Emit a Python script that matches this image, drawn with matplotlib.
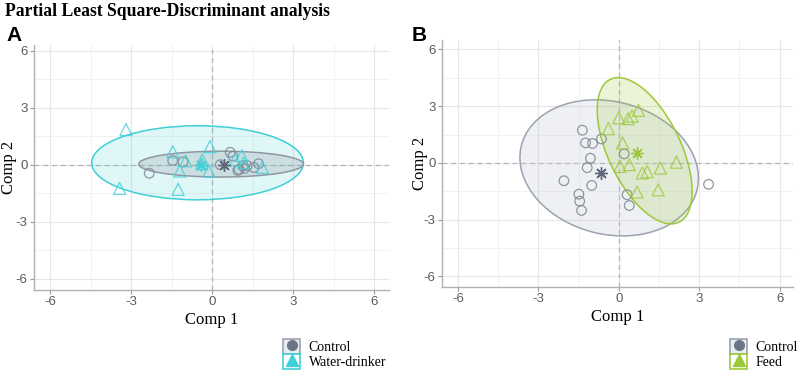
import matplotlib
matplotlib.use("Agg")
import matplotlib.pyplot as plt
from matplotlib.patches import Ellipse, Rectangle
from matplotlib.lines import Line2D
from matplotlib.legend_handler import HandlerTuple

# panel A: control vs water-drinker
a_ctrl_x = [-2.33, -1.46, -1.08, 0.30, 0.67, 0.77, 1.00, 1.15, 1.30, 1.20, 1.55, 1.72, 0.95]
a_ctrl_y = [-0.45, 0.22, 0.15, 0.00, 0.65, 0.45, -0.25, -0.05, -0.05, -0.20, -0.15, 0.05, -0.30]
a_trt_x = [-3.19, -3.43, -1.46, -1.20, -1.26, -0.98, -0.36, -0.08, -0.12, 1.10, 0.85, 1.16, 1.86, -0.38]
a_trt_y = [1.85, -1.25, 0.68, -0.33, -1.30, 0.20, 0.26, 0.95, -0.34, 0.47, 0.26, 0.09, -0.14, 0.05]
a_centroids = {"Control": (0.44, 0.0), "Water-drinker": (-0.42, 0.0)}
# ellipse: centre x, centre y, semi-major, semi-minor, angle (deg)
a_ell_ctrl = (0.33, 0.03, 3.05, 0.68, 0.0)
a_ell_trt = (-0.54, 0.10, 3.92, 1.95, 0.0)

# panel B: control vs feed
b_ctrl_x = [-1.36, -1.24, -0.98, -0.65, -1.06, -1.18, -2.05, -1.01, -1.49, -1.46, -1.39, 0.20, 0.31, 0.39, 3.35]
b_ctrl_y = [1.73, 1.06, 1.03, 1.27, 0.25, -0.25, -0.94, -1.19, -1.65, -2.02, -2.51, 0.48, -1.68, -2.25, -1.13]
b_trt_x = [0.73, 0.50, 0.35, 0.00, -0.39, 0.14, 0.04, 0.39, 0.88, 1.06, 1.55, 2.15, 0.68, 1.47]
b_trt_y = [2.78, 2.48, 2.34, 2.39, 1.81, 1.06, -0.18, -0.09, -0.53, -0.46, -0.27, 0.04, -1.54, -1.42]
b_centroids = {"Control": (-0.65, -0.53), "Feed": (0.68, 0.53)}
b_ell_ctrl = (-0.36, -0.26, 3.75, 3.16, -58.5)
b_ell_trt = (0.965, 0.645, 4.01, 1.42, -73.6)

ticks = [-6, -3, 0, 3, 6]
minor = [-4.5, -1.5, 1.5, 4.5]

GRAY = "#7d8794"
CYAN = "#3fcfd6"
GREEN = "#9cc93a"
SERIF = "Liberation Serif"

plt.rcParams["font.family"] = ["Liberation Sans", "DejaVu Sans"]
plt.rcParams["axes.unicode_minus"] = False

fig = plt.figure(figsize=(8.03, 3.78), dpi=100)

def panel(rect, xlim, ylim, cx, cy, tx, ty, cents, e_ctrl, e_trt, tcol, tname,
          ctrl_on_top, ylab_x):
    ax = fig.add_axes(rect)
    ax.set_xlim(*xlim)
    ax.set_ylim(*ylim)
    ax.set_xticks(ticks)
    ax.set_yticks(ticks)
    ax.set_xticks(minor, minor=True)
    ax.set_yticks(minor, minor=True)
    ax.grid(True, which="major", color="#e6e6e6", linewidth=0.8)
    ax.grid(True, which="minor", color="#f0f0f0", linewidth=0.6)
    ax.tick_params(which="minor", length=0)
    ax.tick_params(which="major", length=3, color="#9a9a9a", labelcolor="#5a5a5a",
                   labelsize=9.5, width=0.8, pad=1.5)
    for s in ["top", "right"]:
        ax.spines[s].set_visible(False)
    for s in ["left", "bottom"]:
        ax.spines[s].set_color("#b0b0b0")
        ax.spines[s].set_linewidth(1.0)
    ax.set_axisbelow(True)
    ax.axhline(0, color="#b5b5b5", linestyle=(0, (4, 3)), linewidth=0.9, zorder=1)
    ax.axvline(0, color="#b5b5b5", linestyle=(0, (4, 3)), linewidth=0.9, zorder=1)

    def ell(p, col, fc, alpha, z):
        ax.add_patch(Ellipse((p[0], p[1]), 2 * p[2], 2 * p[3], angle=p[4],
                             facecolor=fc, alpha=alpha, edgecolor="none", zorder=z))
        ax.add_patch(Ellipse((p[0], p[1]), 2 * p[2], 2 * p[3], angle=p[4],
                             facecolor="none", edgecolor=col, linewidth=1.1, zorder=z + 0.1))

    if ctrl_on_top:
        ell(e_trt, tcol, tcol, 0.16, 2)
        ell(e_ctrl, "#8f97a3", "#8f97a3", 0.25, 3)
    else:
        ell(e_ctrl, "#9ba3ae", "#c9ced8", 0.3, 2)
        ell(e_trt, tcol, tcol, 0.2, 3)

    ax.scatter(cx, cy, s=48, marker="o", facecolor="none", edgecolor=GRAY,
               linewidths=0.9, alpha=0.85, zorder=5)
    ax.scatter(tx, ty, s=75, marker="^", facecolor="none", edgecolor=tcol,
               linewidths=0.9, alpha=0.8, zorder=5)
    xs, ys = cents["Control"]
    ax.plot(xs, ys, marker=(8, 2, 0), markersize=9, color="#5e6878",
            markeredgewidth=1.0, zorder=6)
    xs, ys = cents[tname]
    ax.plot(xs, ys, marker=(8, 2, 0), markersize=9, color=tcol,
            markeredgewidth=1.0, zorder=6)

    ax.set_xlabel("Comp 1", fontfamily=SERIF, fontsize=12, labelpad=3)
    ax.set_ylabel("Comp 2", fontfamily=SERIF, fontsize=12)
    ax.yaxis.set_label_coords(ylab_x, 0.5)
    return ax

axA = panel([0.0423, 0.2328, 0.4421, 0.648], (-6.6, 6.55), (-6.6, 6.3),
            a_ctrl_x, a_ctrl_y, a_trt_x, a_trt_y, a_centroids,
            a_ell_ctrl, a_ell_trt, CYAN, "Water-drinker", True, -0.049)
axB = panel([0.5504, 0.2407, 0.4371, 0.6534], (-6.6, 6.5), (-6.56, 6.5),
            b_ctrl_x, b_ctrl_y, b_trt_x, b_trt_y, b_centroids,
            b_ell_ctrl, b_ell_trt, GREEN, "Feed", False, -0.04)

fig.text(0.006, 0.97, "Partial Least Square-Discriminant analysis", fontfamily=SERIF,
         fontweight="bold", fontsize=12.7, va="center", ha="left")
fig.text(0.008, 0.905, "A", fontsize=15, fontweight="bold", va="center", ha="left")
fig.text(0.512, 0.905, "B", fontsize=15, fontweight="bold", va="center", ha="left")

def legend(x, y, tcol, tname):
    h1 = (Rectangle((0, 0), 1, 1, facecolor="#e9ecf1", edgecolor="#9aa3b0", linewidth=1.2),
          Line2D([], [], marker="o", linestyle="none", markersize=7,
                 markerfacecolor="#6b7585", markeredgecolor="#6b7585"))
    h2 = (Rectangle((0, 0), 1, 1, facecolor="white", edgecolor=tcol, linewidth=1.2),
          Line2D([], [], marker="^", linestyle="none", markersize=8,
                 markerfacecolor=tcol, markeredgecolor=tcol))
    fig.legend([h1, h2], ["Control", tname],
               handler_map={tuple: HandlerTuple(ndivide=1, pad=0)},
               loc="upper left", bbox_to_anchor=(x, y), frameon=False,
               prop={"family": SERIF, "size": 10}, handlelength=1.25, handleheight=1.3,
               labelspacing=0.0, handletextpad=0.6, borderaxespad=0, borderpad=0)

legend(283 / 803, 1 - 339 / 378, CYAN, "Water-drinker")
legend(730 / 803, 1 - 339 / 378, GREEN, "Feed")

fig.savefig("out.png", dpi=100)
